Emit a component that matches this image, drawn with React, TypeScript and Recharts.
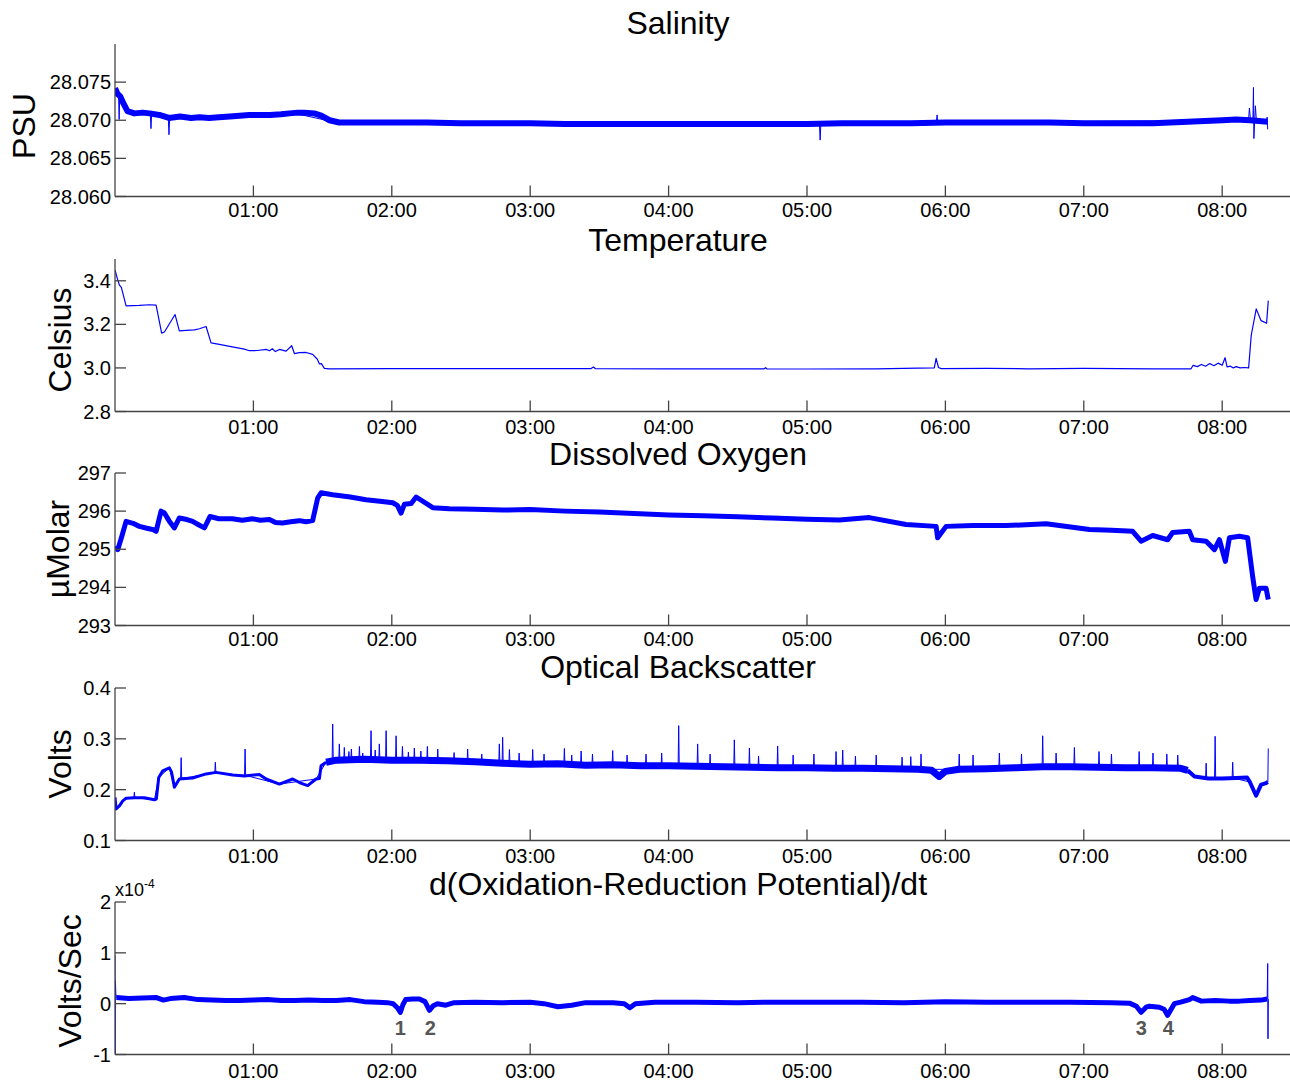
import { LineChart, Line, XAxis, YAxis, ReferenceDot } from 'recharts';

// time axis (hours since start of record)
const hourTicks = [1, 2, 3, 4, 5, 6, 7, 8];
const fmtHour = (h: number) => `0${h}:00`;

// ---- Salinity (PSU) ----
const salTicks = [28.06, 28.065, 28.07, 28.075];
const salT = [0, 0.017, 0.039, 0.061, 0.09, 0.14, 0.2, 0.25, 0.32, 0.39, 0.47, 0.55, 0.61, 0.68, 0.75, 0.83, 0.9, 0.97, 1.05, 1.12, 1.2, 1.26, 1.32, 1.37, 1.44, 1.49, 1.55, 1.62, 1.75, 2.0, 2.25, 2.5, 2.75, 3.0, 3.25, 3.5, 3.75, 4.0, 4.25, 4.5, 4.75, 5.0, 5.25, 5.5, 5.75, 6.0, 6.25, 6.5, 6.75, 7.0, 7.25, 7.5, 7.75, 8.0, 8.1, 8.2, 8.329];
const salV = [28.0742, 28.0735, 28.0731, 28.0722, 28.0712, 28.0709, 28.071, 28.0709, 28.0707, 28.0703, 28.0705, 28.0703, 28.0704, 28.0703, 28.0704, 28.0705, 28.0706, 28.0707, 28.0707, 28.0707, 28.0708, 28.0709, 28.071, 28.071, 28.0709, 28.0706, 28.07, 28.0697, 28.0697, 28.0697, 28.0697, 28.0696, 28.0696, 28.0696, 28.0695, 28.0695, 28.0695, 28.0695, 28.0695, 28.0695, 28.0695, 28.0695, 28.0696, 28.0696, 28.0696, 28.0697, 28.0697, 28.0697, 28.0697, 28.0696, 28.0696, 28.0696, 28.0698, 28.07, 28.0701, 28.07, 28.0698];
const salSpikeT = [0, 0.026, 0.03, 0.034, 0.06, 0.09, 0.255, 0.26, 0.265, 0.385, 0.39, 0.395, 1.3, 1.6, 5.09, 5.095, 5.1, 5.935, 5.94, 5.945, 8.19, 8.197, 8.205, 8.222, 8.226, 8.229, 8.235, 8.24, 8.247, 8.32, 8.325, 8.329];
const salSpikeV = [28.0742, 28.0731, 28.0701, 28.0731, 28.0722, 28.0712, 28.0709, 28.0689, 28.0709, 28.0703, 28.0681, 28.0703, 28.0709, 28.0697, 28.0695, 28.0674, 28.0695, 28.0697, 28.0707, 28.0697, 28.07, 28.0716, 28.07, 28.07, 28.0743, 28.0676, 28.07, 28.0719, 28.07, 28.0699, 28.0704, 28.0688];

// ---- Temperature (Celsius) ----
const tempTicks = [2.8, 3.0, 3.2, 3.4];
const tempT = [0, 0.017, 0.032, 0.046, 0.08, 0.176, 0.249, 0.297, 0.337, 0.357, 0.434, 0.465, 0.514, 0.574, 0.61, 0.658, 0.694, 0.754, 0.848, 0.935, 0.971, 1.029, 1.092, 1.116, 1.137, 1.159, 1.188, 1.236, 1.277, 1.296, 1.332, 1.381, 1.428, 1.462, 1.477, 1.491, 1.513, 1.549, 2.0, 2.5, 3.0, 3.44, 3.457, 3.47, 4.0, 4.5, 4.69, 4.7, 4.71, 5.0, 5.5, 5.8, 5.92, 5.933, 5.95, 5.97, 6.3, 6.6, 7.0, 7.5, 7.775, 7.79, 7.82, 7.85, 7.88, 7.91, 7.94, 7.97, 8.0, 8.021, 8.035, 8.06, 8.08, 8.1, 8.13, 8.16, 8.191, 8.21, 8.246, 8.281, 8.321, 8.333];
const tempV = [3.45, 3.41, 3.38, 3.37, 3.285, 3.287, 3.29, 3.288, 3.16, 3.165, 3.245, 3.17, 3.172, 3.175, 3.18, 3.19, 3.115, 3.108, 3.097, 3.086, 3.079, 3.08, 3.085, 3.079, 3.088, 3.075, 3.085, 3.077, 3.102, 3.066, 3.07, 3.071, 3.062, 3.04, 3.018, 3.02, 2.998, 2.996, 2.997, 2.997, 2.997, 2.997, 3.004, 2.997, 2.996, 2.996, 2.996, 3.001, 2.996, 2.995, 2.996, 2.999, 3.0, 3.044, 3.002, 2.997, 2.998, 2.996, 2.998, 2.996, 2.996, 3.012, 3.006, 3.016, 3.008, 3.02, 3.01, 3.022, 3.012, 3.047, 3.005, 3.008, 3.0, 3.006, 3.0, 3.002, 3.0, 3.15, 3.271, 3.217, 3.205, 3.309];

// ---- Dissolved oxygen (uMolar) ----
const doTicks = [293, 294, 295, 296, 297];
const doT = [0, 0.02, 0.05, 0.08, 0.13, 0.176, 0.23, 0.272, 0.297, 0.333, 0.357, 0.39, 0.429, 0.465, 0.52, 0.561, 0.6, 0.646, 0.687, 0.75, 0.848, 0.92, 0.993, 1.05, 1.116, 1.16, 1.21, 1.27, 1.332, 1.38, 1.428, 1.465, 1.489, 1.573, 1.7, 1.814, 1.93, 2.007, 2.04, 2.067, 2.091, 2.14, 2.176, 2.296, 2.416, 2.6, 2.8, 3.0, 3.25, 3.5, 3.75, 4.0, 4.25, 4.5, 4.75, 5.0, 5.233, 5.45, 5.716, 5.933, 5.944, 6.005, 6.2, 6.439, 6.728, 7.041, 7.2, 7.353, 7.414, 7.498, 7.606, 7.642, 7.763, 7.787, 7.884, 7.944, 7.98, 8.023, 8.052, 8.124, 8.184, 8.22, 8.245, 8.269, 8.317, 8.333];
const doV = [295.08, 294.99, 295.35, 295.73, 295.68, 295.6, 295.55, 295.52, 295.47, 296.0, 295.95, 295.75, 295.56, 295.82, 295.78, 295.73, 295.65, 295.56, 295.86, 295.8, 295.8, 295.76, 295.8, 295.76, 295.78, 295.7, 295.69, 295.72, 295.75, 295.72, 295.75, 296.35, 296.48, 296.43, 296.37, 296.3, 296.25, 296.22, 296.15, 295.95, 296.18, 296.2, 296.37, 296.09, 296.06, 296.05, 296.03, 296.04, 296.0, 295.98, 295.94, 295.9, 295.88, 295.85, 295.82, 295.79, 295.77, 295.83, 295.65, 295.6, 295.3, 295.6, 295.62, 295.62, 295.67, 295.52, 295.5, 295.47, 295.21, 295.36, 295.25, 295.44, 295.47, 295.25, 295.21, 294.99, 295.25, 294.68, 295.3, 295.34, 295.3, 294.29, 293.68, 293.98, 293.98, 293.68];

// ---- Optical backscatter (Volts) ----
const bsTicks = [0.1, 0.2, 0.3, 0.4];
const bsEarlyT = [0, 0.008, 0.032, 0.056, 0.08, 0.14, 0.212, 0.285, 0.299, 0.316, 0.345, 0.393, 0.408, 0.429, 0.465, 0.561, 0.658, 0.73, 0.85, 0.935, 1.043, 1.092, 1.188, 1.284, 1.332, 1.392, 1.453, 1.477, 1.489, 1.525];
const bsEarlyV = [0.185, 0.162, 0.168, 0.178, 0.183, 0.184, 0.184, 0.18, 0.182, 0.224, 0.237, 0.243, 0.235, 0.205, 0.221, 0.223, 0.231, 0.234, 0.229, 0.227, 0.23, 0.221, 0.211, 0.221, 0.214, 0.208, 0.221, 0.222, 0.247, 0.254];
const bsMainT = [1.525, 1.6, 1.8, 2.0, 2.2, 2.4, 2.6, 2.8, 3.0, 3.2, 3.4, 3.6, 3.8, 4.0, 4.2, 4.4, 4.6, 4.8, 5.0, 5.2, 5.4, 5.6, 5.8, 5.9, 5.955, 6.0, 6.1, 6.3, 6.5, 6.7, 6.9, 7.1, 7.3, 7.5, 7.7, 7.75];
const bsMainV = [0.254, 0.258, 0.26, 0.258, 0.258, 0.257, 0.255, 0.252, 0.25, 0.251, 0.248, 0.249, 0.247, 0.247, 0.246, 0.245, 0.244, 0.243, 0.243, 0.242, 0.242, 0.241, 0.24, 0.238, 0.226, 0.236, 0.24, 0.241, 0.243, 0.245, 0.245, 0.244, 0.243, 0.243, 0.242, 0.238];
const bsLateT = [7.75, 7.8, 7.9, 8.0, 8.1, 8.18, 8.2, 8.245, 8.281, 8.317, 8.33];
const bsLateV = [0.238, 0.226, 0.222, 0.222, 0.223, 0.224, 0.215, 0.188, 0.21, 0.213, 0.215];
const bsSpikeT = [
  0.136, 0.14, 0.144,
  0.285, 0.316, 0.393, 0.429,
  0.474, 0.478, 0.482,
  0.721, 0.725, 0.729,
  0.936, 0.94, 0.944,
  1.188, 1.453, 1.525,
  1.569, 1.573, 1.577,
  1.617, 1.621, 1.625,
  1.653, 1.657, 1.661,
  1.704, 1.708, 1.712,
  1.762, 1.766, 1.77,
  1.846, 1.85, 1.854,
  1.906, 1.91, 1.914,
  1.955, 1.959, 1.963,
  2.027, 2.031, 2.035,
  2.073, 2.077, 2.081,
  2.159, 2.163, 2.167,
  2.253, 2.257, 2.261,
  2.328, 2.332, 2.336,
  2.544, 2.548, 2.552,
  2.773, 2.777, 2.781,
  2.797, 2.801, 2.805,
  2.846, 2.85, 2.854,
  3.014, 3.018, 3.022,
  3.243, 3.247, 3.251,
  3.364, 3.368, 3.372,
  3.592, 3.596, 3.6,
  3.833, 3.837, 3.841,
  4.069, 4.073, 4.077,
  4.206, 4.21, 4.214,
  4.471, 4.475, 4.479,
  4.58, 4.584, 4.588,
  4.784, 4.788, 4.792,
  5.206, 5.21, 5.214,
  5.254, 5.258, 5.262,
  5.683, 5.687, 5.691,
  5.82, 5.824, 5.828,
  5.955,
  6.096, 6.1, 6.104,
  6.386, 6.39, 6.394,
  6.699, 6.703, 6.707,
  6.928, 6.932, 6.936,
  7.106, 7.11, 7.114,
  7.396, 7.4, 7.404,
  7.675, 7.679, 7.683,
  7.8,
  7.88, 7.884, 7.888,
  7.945, 7.949, 7.953,
  8.072, 8.076, 8.08,
  8.2, 8.245, 8.281, 8.317, 8.33, 8.333,
];
const bsSpikeV = [
  0.184, 0.195, 0.184,
  0.18, 0.224, 0.243, 0.205,
  0.222, 0.263, 0.222,
  0.233, 0.254, 0.233,
  0.228, 0.28, 0.228,
  0.211, 0.221, 0.254,
  0.257, 0.329, 0.257,
  0.258, 0.29, 0.258,
  0.258, 0.283, 0.258,
  0.259, 0.28, 0.259,
  0.259, 0.285, 0.259,
  0.26, 0.316, 0.26,
  0.259, 0.29, 0.259,
  0.258, 0.316, 0.258,
  0.258, 0.306, 0.258,
  0.258, 0.285, 0.258,
  0.258, 0.282, 0.258,
  0.257, 0.285, 0.257,
  0.257, 0.28, 0.257,
  0.255, 0.28, 0.255,
  0.252, 0.29, 0.252,
  0.252, 0.303, 0.252,
  0.252, 0.279, 0.252,
  0.25, 0.279, 0.25,
  0.25, 0.281, 0.25,
  0.248, 0.276, 0.248,
  0.249, 0.277, 0.249,
  0.247, 0.27, 0.247,
  0.247, 0.326, 0.247,
  0.246, 0.29, 0.246,
  0.245, 0.298, 0.245,
  0.244, 0.282, 0.244,
  0.243, 0.286, 0.243,
  0.242, 0.275, 0.242,
  0.242, 0.278, 0.242,
  0.241, 0.264, 0.241,
  0.24, 0.27, 0.24,
  0.226,
  0.24, 0.27, 0.24,
  0.242, 0.272, 0.242,
  0.245, 0.306, 0.245,
  0.245, 0.283, 0.245,
  0.244, 0.275, 0.244,
  0.243, 0.275, 0.243,
  0.242, 0.268, 0.242,
  0.226,
  0.222, 0.252, 0.222,
  0.222, 0.305, 0.222,
  0.223, 0.254, 0.223,
  0.215, 0.188, 0.21, 0.213, 0.215, 0.281,
];
// smaller noise spikes riding on the main band
const bsSmallT = [
  1.686, 1.69, 1.694,
  1.786, 1.79, 1.794,
  1.876, 1.88, 1.884,
  2.116, 2.12, 2.124,
  2.206, 2.21, 2.214,
  2.446, 2.45, 2.454,
  2.646, 2.65, 2.654,
  2.916, 2.92, 2.924,
  3.096, 3.1, 3.104,
  3.296, 3.3, 3.304,
  3.446, 3.45, 3.454,
  3.696, 3.7, 3.704,
  3.946, 3.95, 3.954,
  4.296, 4.3, 4.304,
  4.646, 4.65, 4.654,
  4.896, 4.9, 4.904,
  5.046, 5.05, 5.054,
  5.346, 5.35, 5.354,
  5.496, 5.5, 5.504,
  5.746, 5.75, 5.754,
  6.196, 6.2, 6.204,
  6.546, 6.55, 6.554,
  6.796, 6.8, 6.804,
  7.196, 7.2, 7.204,
  7.496, 7.5, 7.504,
  7.596, 7.6, 7.604,
];
const bsSmallV = [
  0.258, 0.275, 0.258,
  0.259, 0.272, 0.259,
  0.259, 0.278, 0.259,
  0.258, 0.274, 0.258,
  0.258, 0.276, 0.258,
  0.257, 0.273, 0.257,
  0.254, 0.27, 0.254,
  0.251, 0.272, 0.251,
  0.25, 0.27, 0.25,
  0.25, 0.268, 0.25,
  0.248, 0.27, 0.248,
  0.248, 0.268, 0.248,
  0.247, 0.272, 0.247,
  0.245, 0.27, 0.245,
  0.244, 0.266, 0.244,
  0.243, 0.268, 0.243,
  0.243, 0.27, 0.243,
  0.242, 0.266, 0.242,
  0.242, 0.268, 0.242,
  0.24, 0.265, 0.24,
  0.24, 0.268, 0.24,
  0.243, 0.27, 0.243,
  0.245, 0.272, 0.245,
  0.244, 0.27, 0.244,
  0.243, 0.272, 0.243,
  0.242, 0.27, 0.242,
];

// ---- d(ORP)/dt (x10^-4 Volts/Sec) ----
const orpTicks = [-1, 0, 1, 2];
const orpT = [0.01, 0.1, 0.2, 0.3, 0.35, 0.4, 0.5, 0.6, 0.7, 0.8, 0.9, 1.0, 1.1, 1.2, 1.3, 1.4, 1.5, 1.6, 1.7, 1.8, 1.9, 1.97, 2.01, 2.04, 2.062, 2.08, 2.1, 2.15, 2.2, 2.24, 2.272, 2.3, 2.33, 2.39, 2.45, 2.6, 2.8, 3.0, 3.1, 3.2, 3.3, 3.4, 3.6, 3.68, 3.72, 3.76, 3.9, 4.2, 4.5, 4.8, 5.1, 5.4, 5.7, 6.0, 6.3, 6.6, 6.9, 7.2, 7.33, 7.38, 7.414, 7.45, 7.474, 7.546, 7.58, 7.606, 7.654, 7.7, 7.763, 7.787, 7.85, 7.95, 8.05, 8.124, 8.2, 8.28, 8.325];
const orpV = [0.12, 0.1, 0.11, 0.12, 0.07, 0.1, 0.12, 0.08, 0.07, 0.06, 0.06, 0.07, 0.08, 0.06, 0.06, 0.07, 0.06, 0.06, 0.08, 0.04, 0.03, 0.02, 0.0, -0.08, -0.17, -0.02, 0.08, 0.09, 0.09, 0.04, -0.13, -0.04, 0.0, -0.03, 0.02, 0.03, 0.02, 0.03, 0.0, -0.06, -0.03, 0.02, 0.02, 0.0, -0.08, 0.0, 0.03, 0.03, 0.02, 0.03, 0.03, 0.03, 0.02, 0.04, 0.03, 0.03, 0.03, 0.02, 0.01, -0.05, -0.17, -0.07, -0.05, -0.07, -0.11, -0.23, 0.0, 0.03, 0.08, 0.12, 0.05, 0.06, 0.05, 0.05, 0.06, 0.07, 0.09];
const orpStartT = [0, 0.001, 0.003, 0.006, 0.01];
const orpStartV = [0.95, -0.98, 0.45, 0.2, 0.12];
const orpEndT = [8.325, 8.329, 8.331, 8.333];
const orpEndV = [0.09, 0.79, -0.69, 0.09];
const orpMarkT = [2.062, 2.279, 7.416, 7.611];
const orpMarkText = ['1', '2', '3', '4'];
const orpMarkLevel = -0.47;

const zip = (t: number[], v: number[]) => t.map((x, i) => ({ t: x, v: v[i] }));

const W = 1290;
const PLOT_H = 152.5;
const T_DOMAIN: [number, number] = [0, 8.49];
const AXIS = '#444';
const BLUE = '#0000ff';
const FONT = '"Liberation Sans", Arial, Helvetica, sans-serif';

type PanelProps = {
  top: number;
  yDomain: [number, number];
  yTicks: number[];
  yFmt?: (v: number) => string;
  gap: number;
  children: React.ReactNode;
};

function Panel({ top, yDomain, yTicks, yFmt, gap, children }: PanelProps) {
  const axisLine = { stroke: AXIS, strokeWidth: 1.3 };
  const tickLine = { stroke: AXIS, strokeWidth: 1.3 };
  const tickFont = { fill: '#000', fontSize: 20 };
  return (
    <div style={{ position: 'absolute', left: 0, top: top - 20 }}>
      <LineChart width={W} height={PLOT_H + 50} margin={{ top: 20, right: 0, bottom: 0, left: 0 }}>
        <XAxis dataKey="t" type="number" domain={T_DOMAIN} ticks={hourTicks} tickFormatter={fmtHour} interval={0}
          allowDataOverflow height={30} tickSize={-11} tickMargin={11 + gap} axisLine={axisLine} tickLine={tickLine} tick={tickFont} />
        <XAxis xAxisId="top" orientation="top" dataKey="t" type="number" domain={T_DOMAIN} ticks={hourTicks} interval={0}
          allowDataOverflow height={0} tickSize={-11} tick={false} axisLine={axisLine} tickLine={tickLine} />
        <YAxis type="number" domain={yDomain} ticks={yTicks} tickFormatter={yFmt} interval={0}
          allowDataOverflow width={115} tickSize={-11} tickMargin={15} axisLine={axisLine} tickLine={tickLine} tick={tickFont} />
        <YAxis yAxisId="right" orientation="right" type="number" domain={yDomain} ticks={yTicks} interval={0}
          allowDataOverflow width={0} tickSize={-11} tick={false} axisLine={axisLine} tickLine={tickLine} />
        {children}
      </LineChart>
    </div>
  );
}

const lineProps = { dataKey: 'v', stroke: BLUE, dot: false, activeDot: false, isAnimationActive: false, strokeLinejoin: 'round' as const };

function Title({ text, y }: { text: string; y: number }) {
  return (
    <div style={{ position: 'absolute', left: 678, top: y, transform: 'translateX(-50%)', fontSize: 32, lineHeight: '20px', whiteSpace: 'nowrap' }}>
      {text}
    </div>
  );
}

function YLabel({ text, x, y }: { text: string; x: number; y: number }) {
  return (
    <div style={{ position: 'absolute', left: x, top: y, transform: 'translate(-50%, -50%) rotate(-90deg)', fontSize: 32, lineHeight: '32px', whiteSpace: 'nowrap' }}>
      {text}
    </div>
  );
}

export default function App() {
  return (
    <div style={{ position: 'absolute', left: 0, top: 0, width: 1290, height: 1081, overflow: 'hidden', background: '#fff', fontFamily: FONT, color: '#000' }}>
      <Panel top={44} yDomain={[28.06, 28.08]} yTicks={salTicks} yFmt={(v) => v.toFixed(3)} gap={6.5}>
        <Line {...lineProps} data={zip(salT, salV)} strokeWidth={6} />
        <Line {...lineProps} data={zip(salSpikeT, salSpikeV)} strokeWidth={1} />
      </Panel>
      <Panel top={258.5} yDomain={[2.8, 3.5]} yTicks={tempTicks} yFmt={(v) => v.toFixed(1)} gap={8}>
        <Line {...lineProps} data={zip(tempT, tempV)} strokeWidth={1.2} />
      </Panel>
      <Panel top={473.3} yDomain={[293, 297]} yTicks={doTicks} gap={6}>
        <Line {...lineProps} data={zip(doT, doV)} strokeWidth={5} />
      </Panel>
      <Panel top={687.5} yDomain={[0.1, 0.4]} yTicks={bsTicks} yFmt={(v) => v.toFixed(1)} gap={8}>
        <Line {...lineProps} data={zip(bsEarlyT, bsEarlyV)} strokeWidth={3} />
        <Line {...lineProps} data={zip(bsMainT, bsMainV)} strokeWidth={7} />
        <Line {...lineProps} data={zip(bsLateT, bsLateV)} strokeWidth={4} />
        <Line {...lineProps} data={zip(bsSpikeT, bsSpikeV)} strokeWidth={1} />
        <Line {...lineProps} data={zip(bsSmallT, bsSmallV)} strokeWidth={1} />
      </Panel>
      <Panel top={902} yDomain={[-1, 2]} yTicks={orpTicks} gap={9}>
        <Line {...lineProps} data={zip(orpT, orpV)} strokeWidth={5} />
        <Line {...lineProps} data={zip(orpStartT, orpStartV)} strokeWidth={1} />
        <Line {...lineProps} data={zip(orpEndT, orpEndV)} strokeWidth={1} />
        {orpMarkT.map((t, i) => (
          <ReferenceDot key={i} x={t} y={orpMarkLevel} r={0} fill="none" stroke="none"
            label={{ value: orpMarkText[i], position: 'center', fill: '#555', fontSize: 20, fontWeight: 700 }} />
        ))}
      </Panel>

      <Title text="Salinity" y={13} />
      <Title text="Temperature" y={230} />
      <Title text="Dissolved Oxygen" y={444} />
      <Title text="Optical Backscatter" y={657} />
      <Title text="d(Oxidation-Reduction Potential)/dt" y={874} />

      <YLabel text="PSU" x={24} y={126} />
      <YLabel text="Celsius" x={60} y={340} />
      <YLabel text="µMolar" x={58} y={549} />
      <YLabel text="Volts" x={60} y={764} />
      <YLabel text="Volts/Sec" x={70} y={981} />

      <div style={{ position: 'absolute', left: 115, top: 881, fontSize: 18, lineHeight: '18px', whiteSpace: 'nowrap' }}>
        x10<span style={{ fontSize: 12, position: 'relative', top: -8 }}>-4</span>
      </div>
    </div>
  );
}
